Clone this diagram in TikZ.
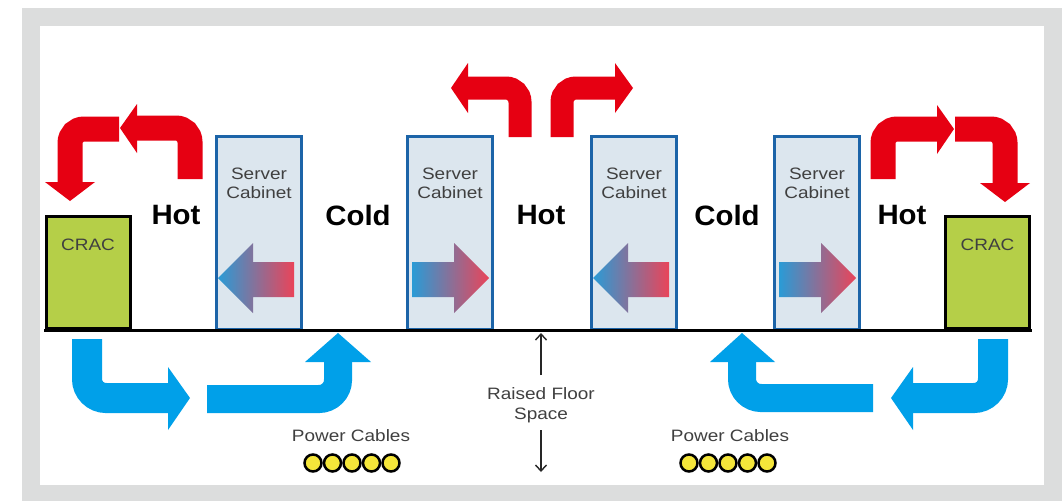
\documentclass[tikz,border=0pt]{standalone}
\usepackage{fontspec}
\setmainfont{Liberation Sans}
\newfontfamily\widefont[FakeStretch=1.15]{Liberation Sans}
\newfontfamily\zonefont[FakeStretch=1.05]{Liberation Sans}
\usetikzlibrary{arrows.meta}
\definecolor{framegray}{HTML}{DCDDDD}
\definecolor{hotred}{HTML}{E60012}
\definecolor{coldblue}{HTML}{00A0E9}
\definecolor{cracgreen}{HTML}{B5CF48}
\definecolor{cabfill}{HTML}{DCE6EE}
\definecolor{cabblue}{HTML}{1C64A8}
\definecolor{txtgray}{HTML}{404040}
\definecolor{gblue}{HTML}{2A9BD6}
\definecolor{gred}{HTML}{EA4459}
\definecolor{cableyellow}{HTML}{F5E63A}
\tikzset{
  cab/.style={draw=cabblue, line width=3pt, fill=cabfill, inner sep=0, minimum width=85pt, minimum height=193pt},
  crac/.style={draw=black, line width=3pt, fill=cracgreen, inner sep=0, minimum width=84pt, minimum height=112pt},
  small/.style={font=\widefont\fontsize{16.5}{20}\selectfont, text=txtgray, inner sep=0, align=center},
  zone/.style={font=\zonefont\bfseries\fontsize{28}{30}\selectfont, text=black, inner sep=0},
  hotshaft/.style={draw=hotred, line width=25pt, rounded corners=14pt},
  hothead/.style={fill=hotred},
  coldshaft/.style={draw=coldblue, line width=30pt, rounded corners=19pt},
  coldhead/.style={fill=coldblue},
  airflow/.style={left color=gblue, right color=gred},
  dimarrow/.style={draw=black!85, line width=1.4pt, -{Straight Barb[length=6pt,width=11pt]}},
  cable/.style={circle, draw=black, line width=2.5pt, fill=cableyellow, minimum size=17pt, inner sep=0}
}
\begin{document}
\begin{tikzpicture}[x=1pt,y=-1pt]
\useasboundingbox (0,0) rectangle (1062,501);
\fill[white] (0,0) rectangle (1062,501);
\fill[framegray] (22,8) rectangle (1062,501);
\fill[white] (40,26) rectangle (1044,485);

% CRAC units
\node[crac] (cracL) at (88,272.5) {};
\node[crac] (cracR) at (987.5,272.5) {};
\node[small, text=txtgray] (cracLt) at (88,245) {CRAC};
\node[small, text=txtgray] (cracRt) at (987.5,245) {CRAC};

% server cabinets
\node[cab] (cab1) at (259,232.5) {};
\node[cab] (cab2) at (450,232.5) {};
\node[cab] (cab3) at (634,232.5) {};
\node[cab] (cab4) at (817,232.5) {};
\foreach \n/\x in {1/259,2/450,3/634,4/817}{
  \node[small] (s\n) at (\x,174) {Server};
  \node[small] (c\n) at (\x,193) {Cabinet};
}

% airflow through cabinets
\shade[airflow] (218,278) -- (253,243) -- (253,262) -- (294,262) -- (294,297) -- (253,297) -- (253,313) -- cycle;
\shade[airflow] (593,278) -- (628,243) -- (628,262) -- (669,262) -- (669,297) -- (628,297) -- (628,313) -- cycle;
\shade[airflow] (412,262) -- (454,262) -- (454,243) -- (489,278) -- (454,313) -- (454,297) -- (412,297) -- cycle;
\shade[airflow] (779,262) -- (821,262) -- (821,243) -- (856,278) -- (821,313) -- (821,297) -- (779,297) -- cycle;

% floor
\coordinate (floorL) at (44,330);
\coordinate (floorR) at (1032,330);
\draw[line width=3pt] (floorL) -- (floorR);

% zone labels
\node[zone] (hot1) at (176,215) {Hot};
\node[zone] (cold1) at (358,215) {Cold};
\node[zone] (hot2) at (541,215) {Hot};
\node[zone] (cold2) at (727,215) {Cold};
\node[zone] (hot3) at (902,215) {Hot};

% hot air arrows (top)
\draw[hotshaft] (190,179) -- (190,128) -- (137,128);
\fill[hothead] (137,104) -- (120,128) -- (137,153) -- cycle;
\draw[hotshaft] (119,129) -- (70,129) -- (70,182);
\fill[hothead] (45,182) -- (70,201) -- (95,182) -- cycle;

\draw[hotshaft, line width=23pt] (520,137) -- (520,88) -- (468,88);
\fill[hothead] (468,63) -- (451,88) -- (468,113) -- cycle;
\draw[hotshaft, line width=23pt] (562,137) -- (562,88) -- (615,88);
\fill[hothead] (615,63) -- (633,88) -- (615,113) -- cycle;

\draw[hotshaft] (883,179) -- (883,129) -- (937,129);
\fill[hothead] (937,105) -- (954,129) -- (937,154) -- cycle;
\draw[hotshaft] (955,129) -- (1005,129) -- (1005,183);
\fill[hothead] (980,183) -- (1005,202) -- (1030,183) -- cycle;

% cold air arrows (under floor)
\draw[coldshaft] (87,339) -- (87,398) -- (168,398);
\fill[coldhead] (168,367) -- (190,398) -- (168,430) -- cycle;
\draw[coldshaft, line width=28pt] (207,399) -- (338,399) -- (338,361);
\fill[coldhead] (305,362) -- (338,333) -- (371,362) -- cycle;

\draw[coldshaft, line width=28pt] (873,398) -- (742,398) -- (742,361);
\fill[coldhead] (710,362) -- (742,333) -- (775,362) -- cycle;
\draw[coldshaft] (993,339) -- (993,398) -- (913,398);
\fill[coldhead] (913,367) -- (891,398) -- (913,430) -- cycle;

% raised floor space
\node[small] (rfs) at (541,405) {Raised Floor\\Space};
\coordinate (rfA) at (541,375);
\coordinate (rfTop) at (541,333);
\coordinate (rfB) at (541,430);
\coordinate (rfBot) at (541,472);
\draw[dimarrow] (rfA) -- (rfTop);
\draw[dimarrow] (rfB) -- (rfBot);

% power cables
\node[small] (pcL) at (351,436) {Power Cables};
\node[small] (pcR) at (730,436) {Power Cables};
\foreach \i in {0,...,4}{
  \node[cable] (cl\i) at ({313+19.5*\i},463) {};
  \node[cable] (cr\i) at ({689+19.5*\i},463) {};
}
\end{tikzpicture}
\end{document}
